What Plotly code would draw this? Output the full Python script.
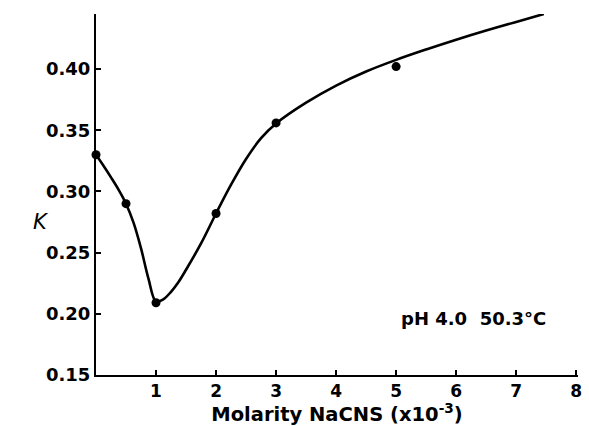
import plotly.graph_objects as go

# measured points
pt_x = [0.0, 0.5, 1.0, 2.0, 3.0, 5.0]
pt_y = [0.330, 0.290, 0.209, 0.282, 0.356, 0.402]

# smooth curve
cv_x = [0.0, 0.125, 0.25, 0.375, 0.5, 0.625, 0.75, 0.875, 1.0, 1.125, 1.25, 1.375, 1.5,
        1.75, 2.0, 2.25, 2.5, 2.75, 3.0, 3.5, 4.0, 4.5, 5.0, 5.5, 6.0, 6.5, 7.0, 7.46]
cv_y = [0.330, 0.3210, 0.3115, 0.3015, 0.2900, 0.2745, 0.2535, 0.2285, 0.2100, 0.2120, 0.2180, 0.2260, 0.2360,
        0.2575, 0.282, 0.3055, 0.3265, 0.3435, 0.3555, 0.3725, 0.3865, 0.3980, 0.4075, 0.4160, 0.4240,
        0.4315, 0.4385, 0.4450]

x_ticks = [1, 2, 3, 4, 5, 6, 7, 8]
y_ticks = [0.15, 0.20, 0.25, 0.30, 0.35, 0.40]
y_labels = ["0.15", "0.20", "0.25", "0.30", "0.35", "0.40"]

font_family = "DejaVu Sans, Liberation Sans, sans-serif"

fig = go.Figure()
fig.add_trace(go.Scatter(x=cv_x, y=cv_y, mode="lines",
                         line=dict(color="black", width=2.6, shape="spline", smoothing=1.0),
                         hoverinfo="skip", showlegend=False))
fig.add_trace(go.Scatter(x=pt_x, y=pt_y, mode="markers",
                         marker=dict(color="black", size=9),
                         showlegend=False, cliponaxis=False))

fig.update_layout(
    width=589, height=426,
    margin=dict(l=96, r=7, t=14, b=51),
    paper_bgcolor="white", plot_bgcolor="white",
    font=dict(family=font_family, color="black", size=17),
    xaxis=dict(range=[0, 8.03], tickvals=x_ticks, ticktext=["<b>%d</b>" % v for v in x_ticks],
               ticks="inside", ticklen=5, tickwidth=1.5, tickcolor="black",
               showline=True, linecolor="black", linewidth=2, showgrid=False, zeroline=False,
               tickfont=dict(size=17),
               title=dict(text="<b>Molarity NaCNS (x10<sup>-3</sup>)</b>", font=dict(size=19.5), standoff=1)),
    yaxis=dict(range=[0.15, 0.445], tickvals=y_ticks, ticktext=["<b>%s</b>" % s for s in y_labels],
               ticks="inside", ticklen=5, tickwidth=1.5, tickcolor="black",
               showline=True, linecolor="black", linewidth=2, showgrid=False, zeroline=False,
               tickfont=dict(size=18)),
    annotations=[
        dict(text="<i>K</i>", xref="paper", yref="y", x=-0.115, y=0.275, showarrow=False,
             font=dict(size=21), xanchor="center", yanchor="middle"),
        dict(text="<b>pH 4.0  50.3°C</b>", xref="x", yref="y", x=5.05, y=0.196, showarrow=False,
             font=dict(size=18), xanchor="left", yanchor="middle"),
    ],
)

fig.write_html("out.html")
